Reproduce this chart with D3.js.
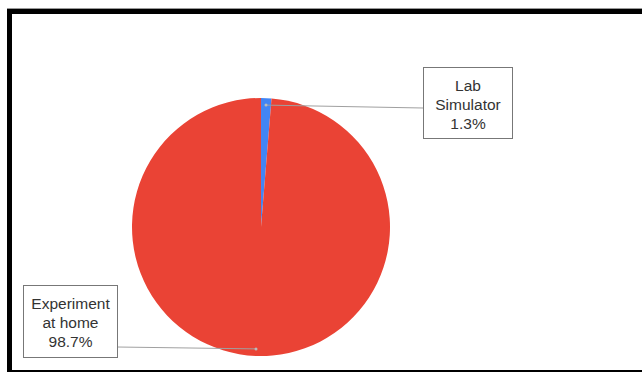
<!DOCTYPE html>
<html>
<head>
<meta charset="utf-8">
<script src="https://cdn.jsdelivr.net/npm/d3@7"></script>
<style>
  body { margin: 0; background: #fff; }
  text { font-family: "Liberation Sans", Arial, sans-serif; }
</style>
</head>
<body>
<svg id="chart" width="642" height="372"></svg>
<script>
// data
var categories = ['Lab Simulator', 'Experiment at home'];
var values = [1.3, 98.7];
var labels = [['Lab', 'Simulator', '1.3%'], ['Experiment', 'at home', '98.7%']];
var colors = ['#4285F4', '#EA4335'];

var svg = d3.select('#chart');
var cx = 261, cy = 227, radius = 129;

// frame round the screenshot
svg.append('line')
  .attr('x1', 7).attr('x2', 642).attr('y1', 8.5).attr('y2', 8.5)
  .attr('stroke', '#999').attr('stroke-width', 1);
svg.append('rect')
  .attr('x', 9.5).attr('y', 11.5)
  .attr('width', 700).attr('height', 361)
  .attr('fill', 'none').attr('stroke', '#000').attr('stroke-width', 5);

var pie = d3.pie().sort(null).value(function (d) { return d; });
var arcs = pie(values);
var arc = d3.arc().innerRadius(0).outerRadius(radius);
var dotArc = d3.arc().innerRadius(122).outerRadius(122);

var g = svg.append('g').attr('transform', 'translate(' + cx + ',' + cy + ')');

g.selectAll('path.slice')
  .data(arcs)
  .enter().append('path')
  .attr('class', 'slice')
  .attr('d', arc)
  .attr('fill', function (d, i) { return colors[i]; });

// label boxes
var boxes = [
  { x: 423, y: 67, w: 89, h: 71, lineY: 108 },
  { x: 23, y: 285, w: 94, h: 72, lineY: 347 }
];

arcs.forEach(function (d, i) {
  var p = dotArc.centroid(d);
  var b = boxes[i];
  var px = cx + p[0], py = cy + p[1];
  var ex = i === 0 ? b.x : b.x + b.w;

  svg.append('line')
    .attr('x1', px).attr('y1', py)
    .attr('x2', ex).attr('y2', b.lineY)
    .attr('stroke', '#a0a0a0').attr('stroke-width', 1);

  svg.append('circle')
    .attr('cx', px).attr('cy', py).attr('r', 1.5)
    .attr('fill', '#bbb');

  svg.append('rect')
    .attr('x', b.x + 0.5).attr('y', b.y + 0.5)
    .attr('width', b.w).attr('height', b.h)
    .attr('fill', '#fff').attr('stroke', '#777').attr('stroke-width', 1);

  var t = svg.append('text')
    .attr('text-anchor', 'middle')
    .attr('fill', '#333')
    .style('font-size', '15.5px');
  labels[i].forEach(function (s, k) {
    t.append('tspan')
      .attr('x', b.x + b.w / 2 + 0.5)
      .attr('y', b.y + 24 + k * 19)
      .text(s);
  });
});
</script>
</body>
</html>
